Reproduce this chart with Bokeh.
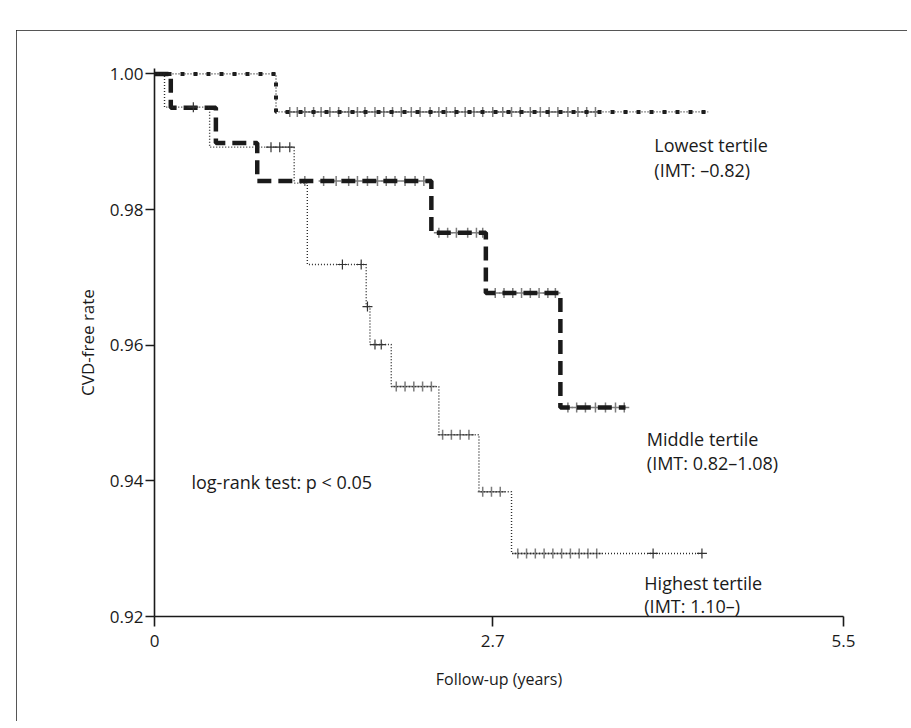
import numpy as np
from bokeh.plotting import figure
from bokeh.models import Range1d, FixedTicker
from bokeh.core.properties import value
from bokeh.embed import file_html
from bokeh.resources import INLINE

# ---------------- data ----------------
x_ticks = [0, 2.7, 5.5]
x_tick_labels = ["0", "2.7", "5.5"]
y_ticks = [0.92, 0.94, 0.96, 0.98, 1.00]
y_tick_labels = ["0.92", "0.94", "0.96", "0.98", "1.00"]

# Lowest tertile (step times / survival)
low_t = [0.0, 0.97]
low_s = [1.0, 0.9944]
low_end = 4.42
low_censor = [1.08, 1.14, 1.20, 1.27, 1.33, 1.40, 1.47, 1.55, 1.62, 1.68, 1.76,
              1.83, 1.90, 1.97, 2.05, 2.12, 2.20, 2.27, 2.33, 2.40, 2.48, 2.55,
              2.62, 2.70, 2.78, 2.85, 2.92, 3.00, 3.08, 3.15, 3.22, 3.30, 3.38,
              3.45, 3.52]

# Middle tertile
mid_t = [0.0, 0.13, 0.49, 0.82, 2.21, 2.645, 3.24]
mid_s = [1.0, 0.995, 0.9898, 0.9842, 0.9766, 0.9677, 0.9508]
mid_end = 3.76
mid_censor = [1.20, 1.35, 1.45, 1.55, 1.62, 1.70, 1.78, 1.85, 1.92, 2.00, 2.08,
              2.15, 2.27, 2.34, 2.41, 2.50, 2.57, 2.62, 2.72, 2.79, 2.86, 2.93,
              3.00, 3.07, 3.14, 3.20, 3.30, 3.37, 3.44, 3.52, 3.60, 3.68, 3.75]

# Highest tertile
high_t = [0.0, 0.08, 0.44, 1.115, 1.22, 1.69, 1.72, 1.89, 2.27, 2.59, 2.85]
high_s = [1.0, 0.9951, 0.9892, 0.9839, 0.9719, 0.9657, 0.9601, 0.9539, 0.9468,
          0.9384, 0.9293]
high_end = 4.38
high_marks = [0.31, 0.93, 1.00, 1.08, 1.50, 1.65, 1.70, 1.76, 1.81, 3.98, 4.37]
high_censor = [1.93, 2.00, 2.07, 2.14, 2.21, 2.30, 2.37, 2.44, 2.51, 2.62, 2.69,
               2.76, 2.90, 2.97, 3.04, 3.11, 3.18, 3.25, 3.32, 3.39, 3.46, 3.53]

group_labels = ["Lowest tertile", "(IMT: \u20130.82)",
                "Middle tertile", "(IMT: 0.82\u20131.08)",
                "Highest tertile", "(IMT: 1.10\u2013)"]
label_x = [3.99, 3.99, 3.93, 3.93, 3.91, 3.91]
label_y = [0.9895, 0.9859, 0.9461, 0.9427, 0.9250, 0.9216]
test_text = "log-rank test: p < 0.05"
y_title = "CVD-free rate"
x_title = "Follow-up (years)"


def step_xy(t, s, end):
    return list(t) + [end], list(s) + [s[-1]]


def surv_at(t, s, times):
    idx = np.searchsorted(np.asarray(t), np.asarray(times), side="right") - 1
    return list(np.asarray(s)[idx])


FONT = "Open Sans"
INK = "#1a1a1a"

p = figure(width=891, height=691, output_backend="svg", toolbar_location=None,
           x_range=Range1d(0, 5.5), y_range=Range1d(0.92, 1.0008),
           min_border_left=138, min_border_right=64,
           min_border_top=38, min_border_bottom=105)
p.margin = (30, 0, 0, 16)
p.styles = {"outline": "2px solid #1e1e1e", "outline-offset": "-2px"}
p.outline_line_color = None
p.grid.visible = False
p.background_fill_color = "white"
p.border_fill_color = "white"

# axes
for ax in (p.xaxis[0], p.yaxis[0]):
    ax.axis_line_color = INK
    ax.axis_line_width = 1.6
    ax.major_tick_line_color = INK
    ax.major_tick_line_width = 1.6
    ax.minor_tick_line_color = None
    ax.major_tick_in = 0
    ax.major_label_text_font = FONT
    ax.major_label_text_font_size = "17px"
    ax.major_label_text_color = INK
    ax.axis_label_text_font = FONT
    ax.axis_label_text_font_style = "normal"
    ax.axis_label_text_color = INK

p.xaxis.ticker = FixedTicker(ticks=x_ticks)
p.xaxis.major_label_overrides = {t: l for t, l in zip(x_ticks, x_tick_labels)}
p.xaxis.major_tick_out = 10
p.xaxis.major_label_standoff = 8
p.xaxis.axis_label = x_title
p.xaxis.axis_label_text_font_size = "16px"
p.xaxis.axis_label_standoff = 18

p.yaxis.ticker = FixedTicker(ticks=y_ticks)
p.yaxis.major_label_overrides = {t: l for t, l in zip(y_ticks, y_tick_labels)}
p.yaxis.major_tick_out = 9
p.yaxis.major_label_standoff = 2
p.yaxis.axis_label = y_title
p.yaxis.axis_label_text_font_size = "17px"
p.yaxis.axis_label_standoff = 8

# censor halos (gray speckle)
halo = dict(marker="cross", size=10, line_color="#7c7c7c", line_width=1.5)
p.scatter(low_censor, surv_at(low_t, low_s, low_censor), **halo)
p.scatter(mid_censor, surv_at(mid_t, mid_s, mid_censor), **halo)
p.scatter(high_censor, surv_at(high_t, high_s, high_censor), **halo)

# lowest tertile: dotted with square dashes
lx, ly = step_xy(low_t, low_s, low_end)
p.step(lx, ly, mode="after", line_color="#222222", line_width=1.3, line_dash="1 2")
p.step(lx, ly, mode="after", line_color="#1e1e1e", line_width=4, line_dash="4 9")

# middle tertile: thick dashed
mx, my = step_xy(mid_t, mid_s, mid_end)
p.step(mx, my, mode="after", line_color="#1a1a1a", line_width=4.5, line_dash="14 7")

# highest tertile: thin dotted
hx, hy = step_xy(high_t, high_s, high_end)
p.step(hx, hy, mode="after", line_color="#2a2a2a", line_width=1.4, line_dash="1 2")
p.scatter(high_marks, surv_at(high_t, high_s, high_marks), marker="cross",
          size=10, line_color="#333333", line_width=1.2)

# texts
p.text(x=label_x, y=label_y, text=group_labels, text_font=value(FONT),
       text_font_size=value("18px"), text_color=INK, text_align="left",
       text_baseline="middle")
p.text(x=[0.295], y=[0.9398], text=[test_text], text_font=value(FONT),
       text_font_size=value("18px"), text_color=INK, text_align="left",
       text_baseline="middle")

open("out.html", "w").write(file_html(p, INLINE))
